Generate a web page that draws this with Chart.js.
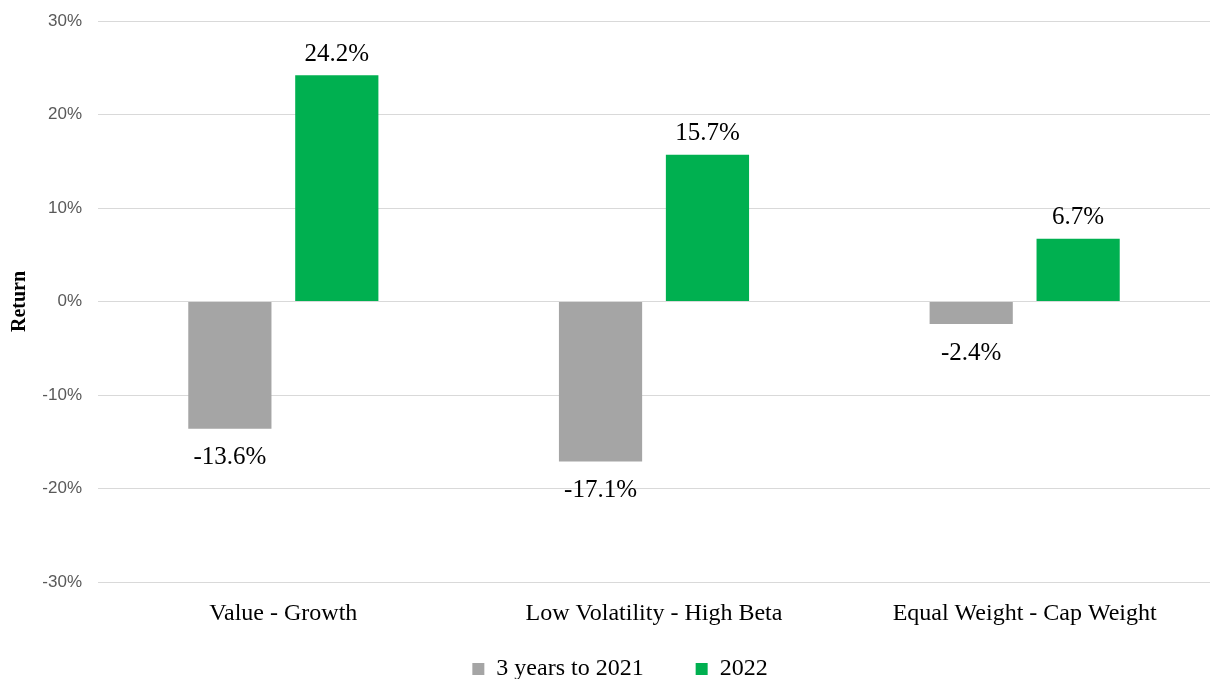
<!DOCTYPE html>
<html>
<head>
<meta charset="utf-8">
<script src="https://cdn.jsdelivr.net/npm/chart.js@4/dist/chart.umd.min.js"></script>
<style>
  html, body { margin: 0; padding: 0; background: #fff; }
  #wrap { width: 1219px; height: 679px; }
</style>
</head>
<body>
<div id="wrap"><canvas id="returnChart" width="1219" height="679"></canvas></div>
<script>
let categories = ["Value - Growth", "Low Volatility - High Beta", "Equal Weight - Cap Weight"]
let seriesNames = ["3 years to 2021", "2022"]
let threeYears = [-13.6, -17.1, -2.4]
let year2022 = [24.2, 15.7, 6.7]
let tickValues = [-30, -20, -10, 0, 10, 20, 30]

let serif = "'Liberation Serif', 'Times New Roman', serif"
let sans = "'Liberation Sans', Arial, sans-serif"

// labels above / below each bar
let barLabels = {
  id: 'barLabels',
  afterDatasetsDraw(chart) {
    let ctx = chart.ctx
    ctx.save()
    ctx.font = "25px " + serif
    ctx.fillStyle = '#000'
    ctx.textAlign = 'center'
    ctx.textBaseline = 'middle'
    chart.data.datasets.forEach((ds, i) => {
      let meta = chart.getDatasetMeta(i)
      meta.data.forEach((bar, j) => {
        let v = ds.data[j]
        let y = v >= 0 ? bar.y - 21 : bar.y + 29
        ctx.fillText(v.toFixed(1) + '%', bar.x, y)
      })
    })
    ctx.restore()
  }
}

// nudge the legend a bit up and right, like the original
let legendNudge = {
  id: 'legendNudge',
  afterLayout(chart) {
    let lg = chart.legend
    if (!lg) return
    lg.top -= 29
    lg.bottom -= 29
    lg.left += 15
    lg.right += 15
  }
}

let chart = new Chart(document.getElementById('returnChart'), {
  type: 'bar',
  data: {
    labels: categories,
    datasets: [
      {
        label: seriesNames[0],
        data: threeYears,
        backgroundColor: '#a5a5a5',
        categoryPercentage: 0.577,
        barPercentage: 0.778
      },
      {
        label: seriesNames[1],
        data: year2022,
        backgroundColor: '#00b050',
        categoryPercentage: 0.577,
        barPercentage: 0.778
      }
    ]
  },
  options: {
    responsive: false,
    animation: false,
    devicePixelRatio: 1,
    layout: {
      padding: { top: 21, right: 9, bottom: -41, left: 0 }
    },
    plugins: {
      tooltip: { enabled: false },
      legend: {
        position: 'bottom',
        labels: {
          boxWidth: 12,
          boxHeight: 12,
          padding: 52,
          color: '#000',
          font: { family: serif, size: 24 }
        }
      }
    },
    scales: {
      x: {
        grid: { display: false },
        border: { display: false },
        ticks: {
          color: '#000',
          padding: 9,
          font: { family: serif, size: 24 }
        },
        afterFit(scale) {
          scale.height = 52
        }
      },
      y: {
        min: -30,
        max: 30,
        afterBuildTicks(scale) {
          scale.ticks = tickValues.map(v => ({ value: v }))
        },
        grid: {
          color: '#d9d9d9',
          lineWidth: 1,
          drawTicks: false
        },
        border: { display: false },
        ticks: {
          color: '#595959',
          padding: 16,
          font: { family: sans, size: 17 },
          callback: v => v + '%'
        },
        title: {
          display: true,
          text: 'Return',
          color: '#000',
          padding: { top: 8, bottom: 0 },
          font: { family: serif, size: 20, weight: 'bold' }
        },
        afterFit(scale) {
          scale.width = 98
          scale.paddingTop = 0
          scale.paddingBottom = 0
        }
      }
    }
  },
  plugins: [barLabels, legendNudge]
})
</script>
</body>
</html>
